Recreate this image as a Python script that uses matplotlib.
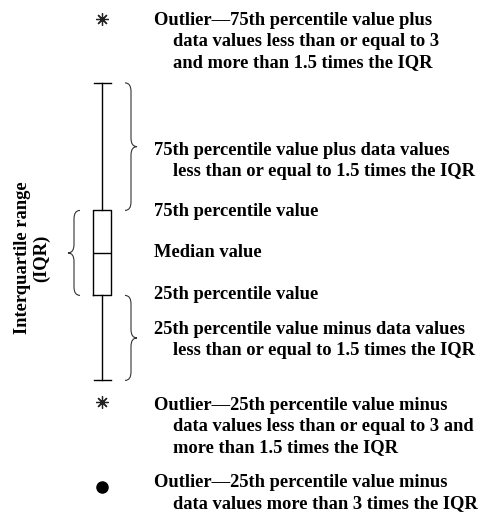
import matplotlib.pyplot as plt
from matplotlib.path import Path
from matplotlib.patches import PathPatch

# schematic box plot, values in units of half the IQR
median = 0.0
q1, q3 = -1.0, 1.0
whisker_low, whisker_high = -3.0, 4.0
mild_outliers = [5.5, -3.5]
extreme_outliers = [-5.5]

label_outlier_high = ["Outlier\u201475th percentile value plus",
                      "data values less than or equal to 3",
                      "and more than 1.5 times the IQR"]
label_upper_whisker = ["75th percentile value plus data values",
                       "less than or equal to 1.5 times the IQR"]
label_q3 = ["75th percentile value"]
label_median = ["Median value"]
label_q1 = ["25th percentile value"]
label_lower_whisker = ["25th percentile value minus data values",
                       "less than or equal to 1.5 times the IQR"]
label_outlier_low = ["Outlier\u201425th percentile value minus",
                     "data values less than or equal to 3 and",
                     "more than 1.5 times the IQR"]
label_outlier_far = ["Outlier\u201425th percentile value minus",
                     "data values more than 3 times the IQR"]
iqr_label = "Interquartile range\n(IQR)"

BOX_X = 102
FONT = dict(family="Liberation Serif", weight="bold", size=13.3, color="black")
STEP = 0.494  # one text line, in value units


def brace(ax, x0, y_top, y_bot, w, d=1, r=0.2):
    mid = (y_top + y_bot) / 2
    xm = x0 + d * w / 2
    verts = [(x0, y_top), (xm, y_top), (xm, y_top - r),
             (xm, mid + r), (xm, mid), (x0 + d * w, mid),
             (xm, mid), (xm, mid - r),
             (xm, y_bot + r), (xm, y_bot), (x0, y_bot)]
    codes = [Path.MOVETO, Path.CURVE3, Path.CURVE3,
             Path.LINETO, Path.CURVE3, Path.CURVE3,
             Path.CURVE3, Path.CURVE3,
             Path.LINETO, Path.CURVE3, Path.CURVE3]
    ax.add_patch(PathPatch(Path(verts, codes), fc="none", ec="#333333", lw=0.8))


def block(ax, lines, y_first):
    for i, line in enumerate(lines):
        x = 154 if i == 0 else 173
        ax.text(x, y_first - i * STEP, line, ha="left", va="center", **FONT)


fig = plt.figure(figsize=(4.83, 5.19), dpi=100)
ax = fig.add_axes([0, 0, 1, 1])
ax.set_xlim(0, 483)
ax.set_ylim(-6.26, 5.95)
ax.axis("off")

stats = [dict(med=median, q1=q1, q3=q3, whislo=whisker_low,
              whishi=whisker_high, fliers=[])]
line = dict(color="black", lw=1.0)
ax.bxp(stats, positions=[BOX_X], widths=[18], capwidths=[17],
       showfliers=False, manage_ticks=False,
       boxprops=line, whiskerprops=line, capprops=line, medianprops=line)

ax.plot([BOX_X] * len(mild_outliers), mild_outliers, ls="none",
        marker=(8, 2, 0), ms=9, mew=0.9, color="#222222")
ax.plot([BOX_X] * len(extreme_outliers), extreme_outliers, ls="none",
        marker="o", ms=8, color="black")

brace(ax, 125, whisker_high, q3, 12)
brace(ax, 125, q1, whisker_low, 12)
brace(ax, 80, q3, q1, 12, d=-1)

block(ax, label_outlier_high, mild_outliers[0] - 0.03)
block(ax, label_upper_whisker, (whisker_high + q3) / 2 - 0.08)
block(ax, label_q3, q3 - 0.03)
block(ax, label_median, median + 0.02)
block(ax, label_q1, q1 + 0.01)
block(ax, label_lower_whisker, (q1 + whisker_low) / 2 + 0.19)
block(ax, label_outlier_low, mild_outliers[1] - 0.08)
block(ax, label_outlier_far, extreme_outliers[0] + 0.09)

ax.text(32, median - 0.12, iqr_label, rotation=90, ha="center", va="center",
        multialignment="center", linespacing=1.2, **FONT)

fig.savefig("out.png", dpi=100)
